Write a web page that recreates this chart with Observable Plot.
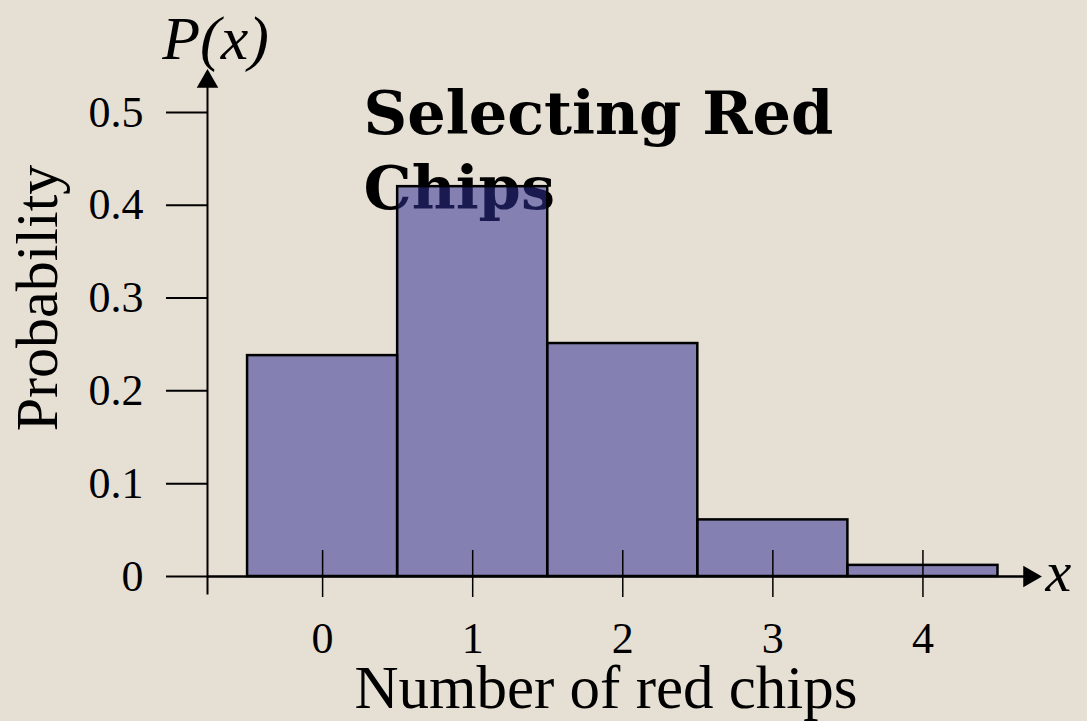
<!DOCTYPE html>
<html>
<head>
<meta charset="utf-8">
<script src="https://cdn.jsdelivr.net/npm/d3@7"></script>
<script src="https://cdn.jsdelivr.net/npm/@observablehq/plot@0.6"></script>
<style>
  html, body { margin: 0; padding: 0; background: #e6dfd3; }
  #chart svg { display: block; }
</style>
</head>
<body>
<div id="chart"></div>
<script>
// Data
const redChips = [0, 1, 2, 3, 4];
const probability = [0.238, 0.420, 0.251, 0.061, 0.012];
const yTickValues = [0, 0.1, 0.2, 0.3, 0.4, 0.5];
const xTickValues = [0, 1, 2, 3, 4];
const titleLines = ["Selecting Red", "Chips"];
const xLabel = "Number of red chips";
const yLabel = "Probability";
const yAxisSymbol = "P(x)";
const xAxisSymbol = "x";

const table = redChips.map((x, i) => ({x, p: probability[i]}));

const chart = Plot.plot({
  width: 1087,
  height: 721,
  marginLeft: 207,
  marginRight: 49,
  marginTop: 72,
  marginBottom: 128,
  style: {background: "#e6dfd3", fontFamily: "'Liberation Serif', serif", color: "#000"},
  x: {domain: [-0.767, 4.77], axis: null},
  y: {domain: [-0.0183, 0.543], axis: null},
  marks: [
    // title (sits under the translucent bars)
    Plot.text([titleLines.join("\n")], {
      frameAnchor: "top-left", textAnchor: "start", lineAnchor: "top",
      dx: 156, dy: 8, lineHeight: 1.24,
      fontFamily: "'DejaVu Serif', serif", fontWeight: "bold", fontSize: 60.5,
      fill: "#000"
    }),
    // bars
    Plot.rect(table, {
      x1: d => d.x - 0.5, x2: d => d.x + 0.5, y1: 0, y2: "p",
      fill: "#303094", fillOpacity: 0.54, stroke: "#000", strokeWidth: 2.5
    }),
    // y axis line
    Plot.frame({anchor: "left", stroke: "#000", strokeWidth: 2}),
    // x axis line
    Plot.ruleY([0], {stroke: "#000", strokeWidth: 2.5}),
    // arrow heads
    Plot.dot([0], {frameAnchor: "top-left", symbol: "triangle", r: 8, fill: "#000", stroke: "none", dy: 9}),
    Plot.dot([0], {y: d => d, frameAnchor: "right", symbol: "triangle", rotate: 90, r: 8, fill: "#000", stroke: "none", dx: -9}),
    // y ticks + labels
    Plot.axisY(yTickValues, {
      anchor: "left", tickSize: 41, tickPadding: 23, strokeWidth: 2,
      tickFormat: d => d === 0 ? "0" : d.toFixed(1),
      fontSize: 44, fontFamily: "'Liberation Serif', serif", label: null
    }),
    // x ticks crossing the axis
    Plot.ruleX(xTickValues, {x: d => d, y1: 0, y2: 0, insetTop: -26, insetBottom: -21, stroke: "#000", strokeWidth: 1.5}),
    // x tick labels
    Plot.text(xTickValues, {x: d => d, text: d => String(d), frameAnchor: "bottom", lineAnchor: "middle", dy: 45, fontSize: 44}),
    // axis titles
    Plot.text([xLabel], {frameAnchor: "bottom", textAnchor: "middle", lineAnchor: "middle", dx: -17, dy: 95, fontSize: 61}),
    Plot.text([yLabel], {frameAnchor: "left", textAnchor: "middle", lineAnchor: "middle", rotate: -90, dx: -170, dy: -35, fontSize: 60}),
    Plot.text([yAxisSymbol], {frameAnchor: "top-left", textAnchor: "middle", lineAnchor: "middle", dx: 8, dy: -33, fontSize: 62, fontStyle: "italic"}),
    Plot.text([xAxisSymbol], {y: d => 0, frameAnchor: "right", textAnchor: "start", dx: 7, dy: -4, fontSize: 58, fontStyle: "italic"})
  ]
});
document.getElementById("chart").appendChild(chart);
</script>
</body>
</html>
